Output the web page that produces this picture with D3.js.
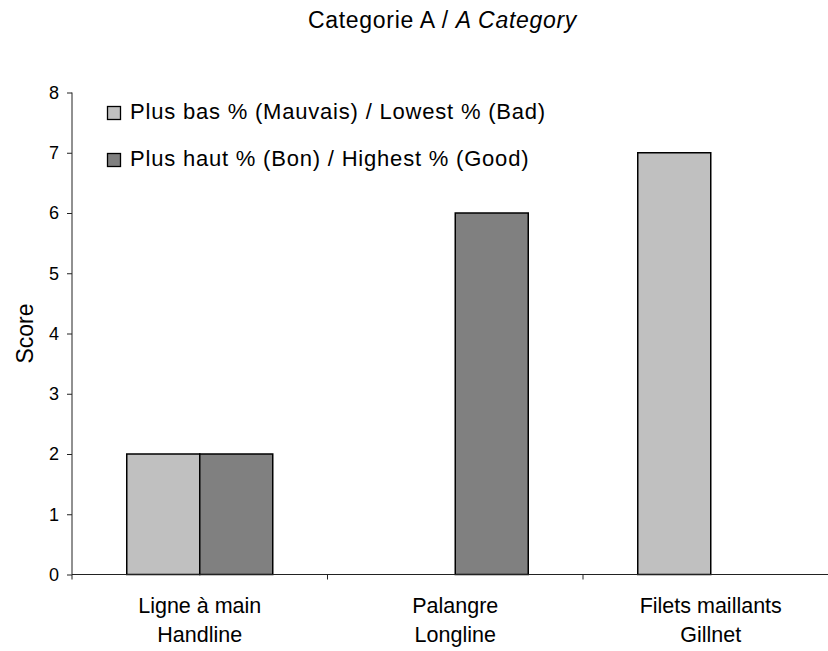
<!DOCTYPE html>
<html>
<head>
<meta charset="utf-8">
<script src="https://cdn.jsdelivr.net/npm/d3@7"></script>
<style>
  html, body { margin: 0; padding: 0; background: #fff; }
  svg { display: block; font-family: "Liberation Sans", Arial, sans-serif; }
</style>
</head>
<body>
<svg id="chart" width="828" height="651"></svg>
<script>
// Gear types (French / English)
const categoriesFr = ["Ligne à main", "Palangre", "Filets maillants"];
const categoriesEn = ["Handline", "Longline", "Gillnet"];
// Scores per series
const lowestScores = [2, 0, 7];
const highestScores = [2, 6, 0];
const seriesNames = ["Plus bas % (Mauvais) / Lowest % (Bad)", "Plus haut % (Bon) / Highest % (Good)"];
const seriesColors = ["#c0c0c0", "#808080"];
const yTicks = [0, 1, 2, 3, 4, 5, 6, 7, 8];

const svg = d3.select("#chart");
const plotLeft = 72, plotRight = 838.5, plotTop = 92.5, plotBottom = 574.5;

const x = d3.scaleBand().domain(categoriesEn).range([plotLeft, plotRight]).paddingInner(0).paddingOuter(0);
const groupW = x.bandwidth() / 1.75;
const xs = d3.scaleBand().domain([0, 1]).range([0, groupW]);
const y = d3.scaleLinear().domain([0, 8]).range([plotBottom, plotTop]);

// Title
const title = svg.append("text").attr("x", 442.5).attr("y", 28)
  .attr("text-anchor", "middle").attr("font-size", 23).attr("letter-spacing", 0.7).attr("fill", "#000");
title.append("tspan").text("Categorie A / ");
title.append("tspan").attr("font-style", "italic").text("A Category");

// Bars
const rows = categoriesEn.map((c, i) => ({ cat: c, vals: [lowestScores[i], highestScores[i]] }));
const groups = svg.append("g").selectAll("g").data(rows).join("g")
  .attr("transform", d => `translate(${x(d.cat) + (x.bandwidth() - groupW) / 2},0)`);
groups.selectAll("rect").data(d => d.vals.map((v, s) => ({ v, s })).filter(d => d.v > 0)).join("rect")
  .attr("x", d => xs(d.s))
  .attr("width", xs.bandwidth())
  .attr("y", d => y(d.v))
  .attr("height", d => y(0) - y(d.v))
  .attr("fill", d => seriesColors[d.s])
  .attr("stroke", "#000").attr("stroke-width", 1.5);

// Y axis
const yAxis = svg.append("g").attr("transform", `translate(${plotLeft},0)`)
  .call(d3.axisLeft(y).tickValues(yTicks).tickSize(5).tickPadding(8).tickFormat(d3.format("d")));
yAxis.select(".domain").attr("stroke", "#222").attr("d", `M0,${plotTop}V${plotBottom}`);
yAxis.selectAll(".tick line").attr("stroke", "#222");
yAxis.selectAll("text").attr("font-size", 18).attr("fill", "#000")
  .attr("font-family", "Liberation Sans, Arial, sans-serif");

// X axis: boundary ticks between categories
const xAxisG = svg.append("g").attr("transform", `translate(0,${plotBottom})`);
xAxisG.append("line").attr("x1", plotLeft).attr("x2", plotRight).attr("y1", 0).attr("y2", 0)
  .attr("stroke", "#222");
const boundaries = categoriesEn.map(c => x(c)).concat([plotRight]);
xAxisG.selectAll("line.bt").data(boundaries).join("line").attr("class", "bt")
  .attr("x1", d => d).attr("x2", d => d).attr("y1", 0).attr("y2", 5).attr("stroke", "#222");
const labels = xAxisG.selectAll("text.cl").data(categoriesEn).join("text").attr("class", "cl")
  .attr("text-anchor", "middle").attr("font-size", 21.5).attr("fill", "#000");
labels.append("tspan").attr("x", d => x(d) + x.bandwidth() / 2).attr("y", 38.5)
  .text((d, i) => categoriesFr[i]);
labels.append("tspan").attr("x", d => x(d) + x.bandwidth() / 2).attr("y", 67)
  .text(d => d);

// Y axis title
svg.append("text").attr("transform", `translate(33,${(plotTop + plotBottom) / 2}) rotate(-90)`)
  .attr("text-anchor", "middle").attr("font-size", 23).attr("fill", "#000").text("Score");

// Legend
const legend = svg.append("g").selectAll("g").data(seriesNames).join("g")
  .attr("transform", (d, i) => `translate(107.5,${106.5 + i * 47})`);
legend.append("rect").attr("width", 13).attr("height", 13)
  .attr("fill", (d, i) => seriesColors[i]).attr("stroke", "#000").attr("stroke-width", 1.3);
legend.append("text").attr("x", 22.5).attr("y", 12).attr("font-size", 22).attr("letter-spacing", 0.8)
  .attr("fill", "#000").text(d => d);
</script>
</body>
</html>
